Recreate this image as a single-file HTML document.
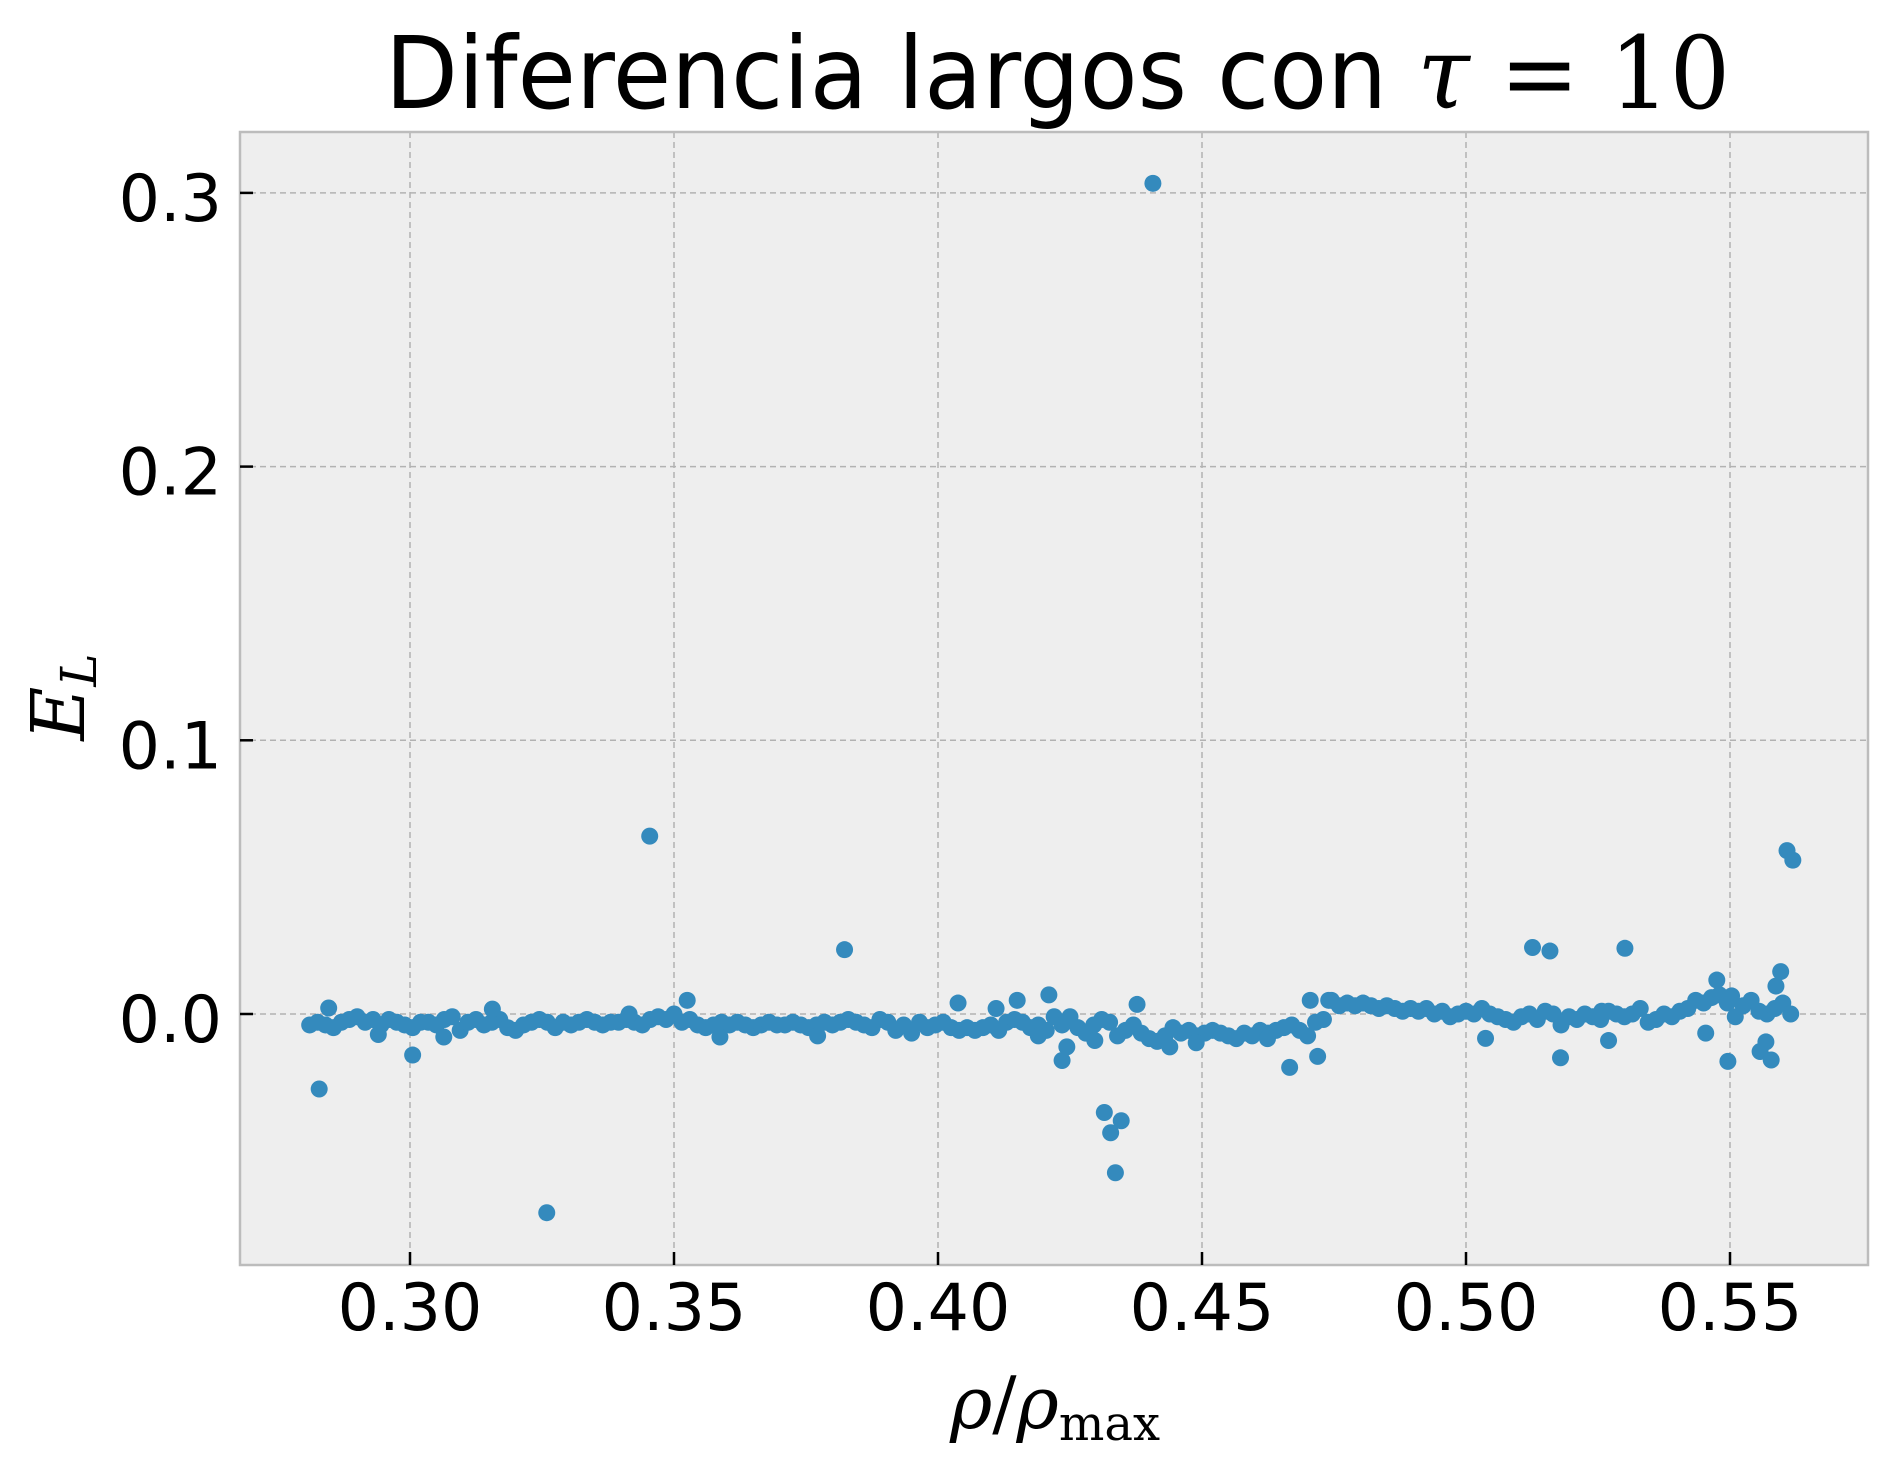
<!DOCTYPE html>
<html><head><meta charset="utf-8"><style>
html,body{margin:0;padding:0;background:#fff;}
svg{display:block;font-family:"DejaVu Sans","Liberation Sans",sans-serif;}
</style></head><body>
<svg id="chart" width="1897" height="1471" viewBox="0 0 1897 1471">
<text x="385" y="108" font-size="100" textLength="1345" lengthAdjust="spacingAndGlyphs">Diferencia largos con <tspan font-family="'DejaVu Serif','Liberation Serif',serif" font-style="italic">τ</tspan><tspan font-family="'DejaVu Serif','Liberation Serif',serif"> = 10</tspan></text>
<rect x="240" y="132" width="1628" height="1133" fill="#eeeeee"/>
<g id="grid"></g>
<g id="points"></g>
<rect x="240" y="132" width="1628" height="1133" fill="none" stroke="#bcbcbc" stroke-width="2.5"/>
<g id="ticks"></g>
<text x="1055" y="1428" font-size="72" text-anchor="middle" font-family="'DejaVu Serif','Liberation Serif',serif"><tspan font-style="italic">ρ</tspan>/<tspan font-style="italic">ρ</tspan><tspan font-size="48" dy="12">max</tspan></text>
<text transform="translate(84,697) rotate(-90)" font-size="74" text-anchor="middle" font-family="'DejaVu Serif','Liberation Serif',serif" font-style="italic">E<tspan font-size="50" dy="12">L</tspan></text>
</svg>
<script>
const xTicks=[0.30,0.35,0.40,0.45,0.50,0.55];
const xTickLabels=["0.30","0.35","0.40","0.45","0.50","0.55"];
const yTicks=[0.0,0.1,0.2,0.3];
const yTickLabels=["0.0","0.1","0.2","0.3"];
const outlierX=[0.2828,0.2846,0.3005,0.3259,0.3454,0.3525,0.3823,0.4038,0.411,0.415,0.421,0.4235,0.4244,0.4315,0.4327,0.4347,0.4336,0.4407,0.4377,0.4666,0.4705,0.4719,0.5126,0.5159,0.5179,0.5301,0.527,0.5037,0.5475,0.5454,0.5496,0.5503,0.5557,0.5568,0.5578,0.5587,0.5596,0.5608,0.5619,0.294,0.3064,0.3587,0.3772,0.3156,0.3415,0.474,0.5257,0.4439,0.4489,0.4624,0.4297,0.419];
const outlierY=[-0.0274,0.0022,-0.015,-0.0726,0.065,0.005,0.0235,0.004,0.002,0.005,0.007,-0.017,-0.012,-0.036,-0.0434,-0.039,-0.058,0.3035,0.0035,-0.0195,0.005,-0.0155,0.0243,0.023,-0.016,0.024,-0.0097,-0.0089,0.0124,-0.007,-0.0173,0.0066,-0.0137,-0.0102,-0.0168,0.0102,0.0155,0.0597,0.0562,-0.0075,-0.0084,-0.0084,-0.008,0.0018,0.0,0.005,0.001,-0.012,-0.0105,-0.009,-0.0097,-0.008];
const bandX=[0.2810,0.2825,0.2840,0.2855,0.2870,0.2885,0.2900,0.2915,0.2930,0.2945,
0.2960,0.2975,0.2990,0.3005,0.3020,0.3035,0.3050,0.3065,0.3080,0.3095,
0.3110,0.3125,0.3140,0.3155,0.3170,0.3185,0.3200,0.3215,0.3230,0.3245,
0.3260,0.3275,0.3290,0.3305,0.3320,0.3335,0.3350,0.3365,0.3380,0.3395,
0.3410,0.3425,0.3440,0.3455,0.3470,0.3485,0.3500,0.3515,0.3530,0.3545,
0.3560,0.3575,0.3590,0.3605,0.3620,0.3635,0.3650,0.3665,0.3680,0.3695,
0.3710,0.3725,0.3740,0.3755,0.3770,0.3785,0.3800,0.3815,0.3830,0.3845,
0.3860,0.3875,0.3890,0.3905,0.3920,0.3935,0.3950,0.3965,0.3980,0.3995,
0.4010,0.4025,0.4040,0.4055,0.4070,0.4085,0.4100,0.4115,0.4130,0.4145,
0.4160,0.4175,0.4190,0.4205,0.4220,0.4235,0.4250,0.4265,0.4280,0.4295,
0.4310,0.4325,0.4340,0.4355,0.4370,0.4385,0.4400,0.4415,0.4430,0.4445,
0.4460,0.4475,0.4490,0.4505,0.4520,0.4535,0.4550,0.4565,0.4580,0.4595,
0.4610,0.4625,0.4640,0.4655,0.4670,0.4685,0.4700,0.4715,0.4730,0.4745,
0.4760,0.4775,0.4790,0.4805,0.4820,0.4835,0.4850,0.4865,0.4880,0.4895,
0.4910,0.4925,0.4940,0.4955,0.4970,0.4985,0.5000,0.5015,0.5030,0.5045,
0.5060,0.5075,0.5090,0.5105,0.5120,0.5135,0.5150,0.5165,0.5180,0.5195,
0.5210,0.5225,0.5240,0.5255,0.5270,0.5285,0.5300,0.5315,0.5330,0.5345,
0.5360,0.5375,0.5390,0.5405,0.5420,0.5435,0.5450,0.5465,0.5480,0.5495,
0.5510,0.5525,0.5540,0.5555,0.5570,0.5585,0.5600,0.5615];
const bandY=[-0.004,-0.003,-0.004,-0.005,-0.003,-0.002,-0.001,-0.003,-0.002,-0.004,
-0.002,-0.003,-0.004,-0.005,-0.003,-0.003,-0.004,-0.002,-0.001,-0.006,
-0.003,-0.002,-0.004,-0.003,-0.002,-0.005,-0.006,-0.004,-0.003,-0.002,
-0.003,-0.005,-0.003,-0.004,-0.003,-0.002,-0.003,-0.004,-0.003,-0.003,
-0.002,-0.003,-0.004,-0.002,-0.001,-0.002,0.000,-0.003,-0.002,-0.004,
-0.005,-0.004,-0.003,-0.004,-0.003,-0.004,-0.005,-0.004,-0.003,-0.004,
-0.004,-0.003,-0.004,-0.005,-0.004,-0.003,-0.004,-0.003,-0.002,-0.003,
-0.004,-0.005,-0.002,-0.003,-0.006,-0.004,-0.007,-0.003,-0.005,-0.004,
-0.003,-0.005,-0.006,-0.005,-0.006,-0.005,-0.004,-0.006,-0.003,-0.002,
-0.003,-0.005,-0.004,-0.006,-0.001,-0.004,-0.001,-0.005,-0.007,-0.004,
-0.002,-0.003,-0.008,-0.006,-0.004,-0.007,-0.009,-0.010,-0.008,-0.005,
-0.007,-0.006,-0.008,-0.007,-0.006,-0.007,-0.008,-0.009,-0.007,-0.008,
-0.006,-0.007,-0.006,-0.005,-0.004,-0.006,-0.008,-0.003,-0.002,0.005,
0.003,0.004,0.003,0.004,0.003,0.002,0.003,0.002,0.001,0.002,
0.001,0.002,0.000,0.001,-0.001,0.000,0.001,0.000,0.002,0.000,
-0.001,-0.002,-0.003,-0.001,0.000,-0.002,0.001,0.000,-0.004,-0.001,
-0.002,0.000,-0.001,-0.002,0.001,0.000,-0.001,0.000,0.002,-0.003,
-0.002,0.000,-0.001,0.001,0.002,0.005,0.004,0.006,0.007,0.004,
-0.001,0.003,0.005,0.001,0.000,0.002,0.004,0.000];

const NS="http://www.w3.org/2000/svg";
const L=240,R=1868,T=132,B=1265;
function sx(v){return 410+(v-0.30)*5280;}
function sy(v){return 1014-v*2737;}
const grid=document.getElementById('grid'),ticks=document.getElementById('ticks'),pts=document.getElementById('points');
xTicks.forEach((v,i)=>{
 const x=sx(v);
 const g=document.createElementNS(NS,'line');
 g.setAttribute('x1',x);g.setAttribute('x2',x);g.setAttribute('y1',T);g.setAttribute('y2',B);
 g.setAttribute('stroke','#b2b2b2');g.setAttribute('stroke-width','1.5');g.setAttribute('stroke-dasharray','6,4');
 
 
 grid.appendChild(g);
 const t=document.createElementNS(NS,'line');
 t.setAttribute('x1',x);t.setAttribute('x2',x);t.setAttribute('y1',B);t.setAttribute('y2',B-13);
 t.setAttribute('stroke','#000');t.setAttribute('stroke-width','2.5');
 
 
 ticks.appendChild(t);
 const lb=document.createElementNS(NS,'text');
 lb.setAttribute('x',x);lb.setAttribute('y',1330);lb.setAttribute('font-size','65');lb.setAttribute('text-anchor','middle');
 lb.textContent=xTickLabels[i];
 
 
 ticks.appendChild(lb);
});
yTicks.forEach((v,i)=>{
 const y=sy(v);
 const g=document.createElementNS(NS,'line');
 g.setAttribute('x1',L);g.setAttribute('x2',R);g.setAttribute('y1',y);g.setAttribute('y2',y);
 g.setAttribute('stroke','#b2b2b2');g.setAttribute('stroke-width','1.5');g.setAttribute('stroke-dasharray','6,4');
 
 
 grid.appendChild(g);
 const t=document.createElementNS(NS,'line');
 t.setAttribute('x1',L);t.setAttribute('x2',L+13);t.setAttribute('y1',y);t.setAttribute('y2',y);
 t.setAttribute('stroke','#000');t.setAttribute('stroke-width','2.5');
 
 
 ticks.appendChild(t);
 const lb=document.createElementNS(NS,'text');
 lb.setAttribute('x',222);lb.setAttribute('y',y+28);lb.setAttribute('font-size','65');lb.setAttribute('text-anchor','end');
 lb.textContent=yTickLabels[i];
 
 
 ticks.appendChild(lb);
});
function addPoints(xs,ys){
 xs.forEach((v,i)=>{
  const c=document.createElementNS(NS,'circle');
  c.setAttribute('cx',sx(v));c.setAttribute('cy',sy(ys[i]));c.setAttribute('r','8.5');c.setAttribute('fill','#348abd');
  
  
  pts.appendChild(c);
 });
}
addPoints(bandX,bandY);
addPoints(outlierX,outlierY);
</script>
</body></html>
